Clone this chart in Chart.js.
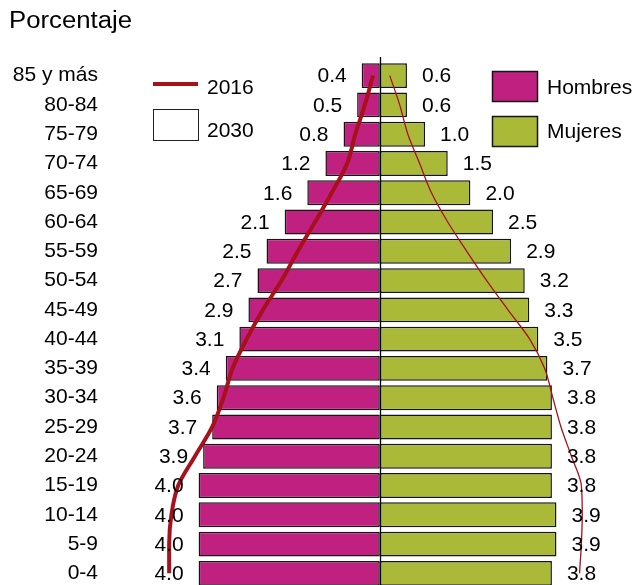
<!DOCTYPE html>
<html>
<head>
<meta charset="utf-8">
<script src="https://cdn.jsdelivr.net/npm/chart.js@4.4.0/dist/chart.umd.min.js"></script>
<style>
  html, body { margin: 0; overflow: hidden; background: #fff; }
  #wrap { position: relative; width: 633px; height: 585px; overflow: hidden; }
</style>
</head>
<body>
<div id="wrap">
  <canvas id="myChart" width="633" height="600"></canvas>
</div>
<script>
const ageGroups = ['85 y más','80-84','75-79','70-74','65-69','60-64','55-59','50-54','45-49','40-44','35-39','30-34','25-29','20-24','15-19','10-14','5-9','0-4'];
const years = ['2016', '2030'];
const sexes = ['Hombres', 'Mujeres'];
const unitLabel = 'Porcentaje';

// 2030 (bars)
const men2030 = [0.4,0.5,0.8,1.2,1.6,2.1,2.5,2.7,2.9,3.1,3.4,3.6,3.7,3.9,4.0,4.0,4.0,4.0];
const women2030 = [0.6,0.6,1.0,1.5,2.0,2.5,2.9,3.2,3.3,3.5,3.7,3.8,3.8,3.8,3.8,3.9,3.9,3.8];

// 2016 (lines)
const men2016 = [0.15,0.33,0.54,0.72,1.06,1.43,1.81,2.17,2.58,2.94,3.25,3.45,3.70,4.08,4.45,4.60,4.65,4.65];
const women2016 = [0.22,0.44,0.62,0.88,1.14,1.50,1.92,2.36,2.83,3.31,3.64,3.82,4.00,4.23,4.45,4.47,4.45,4.41];

const FONT = "'Liberation Sans', Arial, sans-serif";
const menColor = '#c0207f';
const womenColor = '#aab938';
const lineColor = '#a8101c';
const edge = '#151515';

const extras = {
    id: 'extras',
    afterDatasetsDraw(chart) {
        const c = chart.ctx;
        const area = chart.chartArea;
        const x0 = chart.scales.x.getPixelForValue(0);

        // centre axis
        c.save();
        c.strokeStyle = '#000';
        c.lineWidth = 1.3;
        c.beginPath();
        c.moveTo(Math.round(x0) + 0.5, 57);
        c.lineTo(Math.round(x0) + 0.5, area.bottom);
        c.stroke();

        // bar value labels
        c.font = '21px ' + FONT;
        c.fillStyle = '#000';
        c.textBaseline = 'middle';
        [0, 1].forEach(di => {
            const meta = chart.getDatasetMeta(di);
            const vals = di === 0 ? men2030 : women2030;
            meta.data.forEach((bar, i) => {
                const txt = vals[i].toFixed(1);
                if (di === 0) {
                    c.textAlign = 'right';
                    c.fillText(txt, bar.x - 15, bar.y + 1);
                } else {
                    c.textAlign = 'left';
                    c.fillText(txt, bar.x + 15, bar.y + 1);
                }
            });
        });
        c.restore();
    },
    afterDraw(chart) {
        const c = chart.ctx;
        c.save();
        c.fillStyle = '#000';
        c.textAlign = 'left';

        // unit label, slightly wide as in the source
        c.save();
        c.font = '23px ' + FONT;
        c.textBaseline = 'alphabetic';
        c.translate(9, 28);
        c.scale(1.12, 1);
        c.fillText(unitLabel, 0, 0);
        c.restore();

        c.font = '21px ' + FONT;
        c.textBaseline = 'middle';

        // years legend
        c.strokeStyle = lineColor;
        c.lineWidth = 4;
        c.beginPath();
        c.moveTo(153, 84);
        c.lineTo(198, 84);
        c.stroke();
        c.fillText(years[0], 207, 88);

        c.fillStyle = '#fff';
        c.fillRect(153.5, 109.5, 45, 31);
        c.strokeStyle = '#222';
        c.lineWidth = 1;
        c.strokeRect(153.5, 109.5, 45, 31);
        c.fillStyle = '#000';
        c.fillText(years[1], 207, 131);

        // sex legend
        c.fillStyle = menColor;
        c.fillRect(492.5, 71.5, 45, 30);
        c.strokeStyle = edge;
        c.lineWidth = 1.5;
        c.strokeRect(492.5, 71.5, 45, 30);
        c.fillStyle = '#000';
        c.fillText(sexes[0], 547, 88);

        c.fillStyle = womenColor;
        c.fillRect(492.5, 116.5, 45, 30);
        c.strokeRect(492.5, 116.5, 45, 30);
        c.fillStyle = '#000';
        c.fillText(sexes[1], 547, 132);
        c.restore();
    }
};

const ctx = document.getElementById('myChart').getContext('2d');
const myChart = new Chart(ctx, {
    data: {
        labels: ageGroups,
        datasets: [
            {
                type: 'bar',
                label: sexes[0] + ' ' + years[1],
                data: men2030.map(v => -v),
                backgroundColor: menColor,
                borderColor: edge,
                borderWidth: 1.5,
                borderSkipped: false,
                stack: 'pop',
                order: 2
            },
            {
                type: 'bar',
                label: sexes[1] + ' ' + years[1],
                data: women2030,
                backgroundColor: womenColor,
                borderColor: edge,
                borderWidth: 1.5,
                borderSkipped: false,
                stack: 'pop',
                order: 2
            },
            {
                type: 'line',
                label: sexes[0] + ' ' + years[0],
                data: men2016.map(v => -v),
                borderColor: lineColor,
                borderWidth: 4,
                pointRadius: 0,
                cubicInterpolationMode: 'monotone',
                fill: false,
                stack: 'l1',
                order: 0
            },
            {
                type: 'line',
                label: sexes[1] + ' ' + years[0],
                data: women2016,
                borderColor: lineColor,
                borderWidth: 1.3,
                pointRadius: 0,
                cubicInterpolationMode: 'monotone',
                fill: false,
                stack: 'l2',
                order: 0
            }
        ]
    },
    options: {
        indexAxis: 'y',
        responsive: false,
        animation: false,
        layout: { autoPadding: false, padding: { top: 61, bottom: 12, left: 0, right: 0 } },
        datasets: {
            bar: { barPercentage: 0.85, categoryPercentage: 1 }
        },
        scales: {
            x: {
                display: false,
                stacked: true,
                min: -6,
                max: 5.59
            },
            y: {
                stacked: true,
                grid: { display: false, drawTicks: false },
                border: { display: false },
                ticks: {
                    color: '#000',
                    padding: 10,
                    font: { family: FONT, size: 21 }
                },
                afterFit: (scale) => {
                    scale.width = 108;
                    scale.paddingTop = 0;
                    scale.paddingBottom = 0;
                }
            }
        },
        plugins: {
            legend: { display: false },
            tooltip: { enabled: false }
        }
    },
    plugins: [extras]
});
</script>
</body>
</html>
